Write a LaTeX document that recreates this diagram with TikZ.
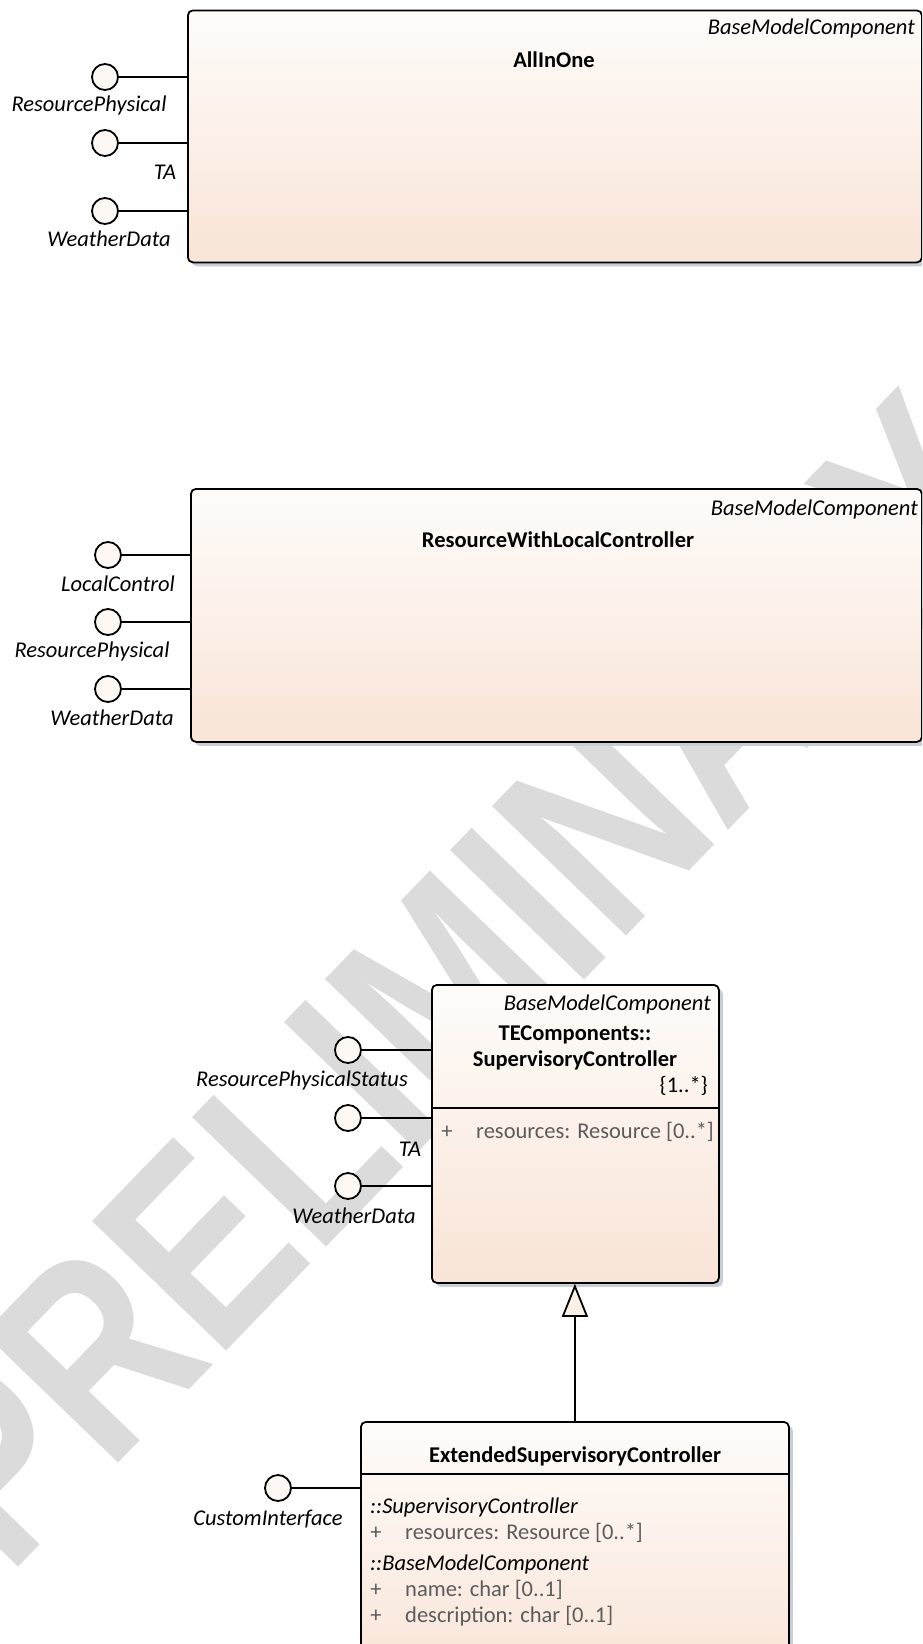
\documentclass[tikz,border=0pt]{standalone}
\usepackage{fontspec}
\setmainfont{Carlito}
\newfontfamily\wmfont{Liberation Sans}
\usetikzlibrary{positioning,arrows.meta,shadows}

\definecolor{boxTop}{HTML}{FEFCFA}
\definecolor{boxBot}{HTML}{F9E4D7}
\definecolor{shadowGray}{HTML}{C8CDD8}
\definecolor{portFill}{HTML}{FDF8F4}
\definecolor{wmGray}{HTML}{DBDBDB}
\definecolor{attrGray}{HTML}{5C5C5C}
\definecolor{triFill}{HTML}{FAF1E6}

\begin{document}
\begin{tikzpicture}[x=1pt, y=-1pt, font=\fontsize{22.5}{26}\selectfont,
  comp/.style={draw, line width=1.8pt, rounded corners=5pt, top color=boxTop,
    bottom color=boxBot, anchor=north west, inner sep=0pt,
    drop shadow={shadow xshift=4pt, shadow yshift=-4pt, fill=shadowGray, opacity=1}},
  port/.style={circle, draw, line width=1.8pt, fill=portFill, minimum size=26pt, inner sep=0pt},
  plabel/.style={font=\fontsize{22.5}{26}\selectfont\itshape, inner sep=0pt},
  stereo/.style={font=\fontsize{22.5}{26}\selectfont\itshape, anchor=east, inner sep=0pt},
  ctitle/.style={font=\fontsize{22.5}{26}\selectfont\bfseries, align=center, inner sep=0pt},
  attr/.style={text=attrGray, anchor=west, inner sep=0pt},
  conn/.style={line width=1.8pt}]
  \clip (0,0) rectangle (922,1644);

  % watermark
  \node[rotate=46, xscale=0.797, text=wmGray, font=\fontsize{271}{271}\selectfont\wmfont\bfseries] (wm) at (455,980) {PRELIMINARY};

  % AllInOne
  \node[comp, minimum width=734pt, minimum height=252pt] (aio) at (187,9.5) {};
  \node[stereo] (aioS) at (915,28) {BaseModelComponent};
  \node[ctitle] (aioT) at (554,60) {AllInOne};
  \node[port] (aioP1) at (105,77) {};
  \node[port] (aioP2) at (105,143) {};
  \node[port] (aioP3) at (105,211) {};
  \foreach \p in {aioP1,aioP2,aioP3}
    \draw[conn] (\p) -- (\p -| aio.west);
  \node[plabel] (aioL1) at (89,105) {ResourcePhysical};
  \node[plabel] (aioL2) at (165,172) {TA};
  \node[plabel] (aioL3) at (109,239) {WeatherData};

  % ResourceWithLocalController
  \node[comp, minimum width=731pt, minimum height=253pt] (rwl) at (190,488) {};
  \node[stereo] (rwlS) at (918,509) {BaseModelComponent};
  \node[ctitle] (rwlT) at (558,540) {ResourceWithLocalController};
  \node[port] (rwlP1) at (108,555) {};
  \node[port] (rwlP2) at (108,622) {};
  \node[port] (rwlP3) at (108,689) {};
  \foreach \p in {rwlP1,rwlP2,rwlP3}
    \draw[conn] (\p) -- (\p -| rwl.west);
  \node[plabel] (rwlL1) at (118,584) {LocalControl};
  \node[plabel] (rwlL2) at (92,651) {ResourcePhysical};
  \node[plabel] (rwlL3) at (112,718) {WeatherData};

  % SupervisoryController
  \node[comp, minimum width=287pt, minimum height=298pt] (sc) at (431,984) {};
  \draw[conn] (sc.west |- 0,1108) -- (sc.east |- 0,1108);
  \node[stereo] (scS) at (711,1004) {BaseModelComponent};
  \node[ctitle] (scT) at (575,1048) {TEComponents::\\SupervisoryController};
  \node[anchor=east, inner sep=0pt] (scM) at (708,1086) {\{1..*\}};
  \node[text=attrGray, inner sep=0pt] (scA1p) at (447,1132) {+};
  \node[attr] (scA1) at (476,1132) {resources: Resource [0..*]};
  \node[port] (scP1) at (348,1050) {};
  \node[port] (scP2) at (348,1118) {};
  \node[port] (scP3) at (348,1186) {};
  \foreach \p in {scP1,scP2,scP3}
    \draw[conn] (\p) -- (\p -| sc.west);
  \node[plabel] (scL1) at (302,1080) {ResourcePhysicalStatus};
  \node[plabel] (scL2) at (410,1149) {TA};
  \node[plabel] (scL3) at (354,1216) {WeatherData};

  % ExtendedSupervisoryController
  \node[comp, minimum width=428pt, minimum height=260pt] (esc) at (360,1421) {};
  \draw[conn] (esc.west |- 0,1474) -- (esc.east |- 0,1474);
  \node[ctitle] (escT) at (575,1456) {ExtendedSupervisoryController};
  \node[plabel, anchor=west] (escG1) at (370,1507) {::SupervisoryController};
  \node[text=attrGray, inner sep=0pt] (escA1p) at (376,1533) {+};
  \node[attr] (escA1) at (405,1533) {resources: Resource [0..*]};
  \node[plabel, anchor=west] (escG2) at (370,1564) {::BaseModelComponent};
  \node[text=attrGray, inner sep=0pt] (escA2p) at (376,1590) {+};
  \node[attr] (escA2) at (405,1590) {name: char [0..1]};
  \node[text=attrGray, inner sep=0pt] (escA3p) at (376,1616) {+};
  \node[attr] (escA3) at (405,1616) {description: char [0..1]};
  \node[port] (escP1) at (278,1488) {};
  \draw[conn] (escP1) -- (escP1 -| esc.west);
  \node[plabel] (escL1) at (268,1519) {CustomInterface};

  % generalization
  \draw[conn, -{Triangle[length=33pt, width=26pt, fill=triFill]}] (esc.north) -- (esc.north |- sc.south);
\end{tikzpicture}
\end{document}
